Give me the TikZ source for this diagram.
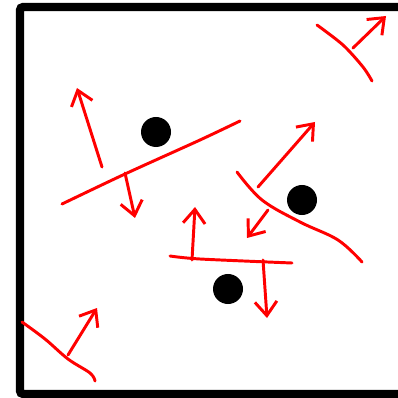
\documentclass[tikz,border=0pt]{standalone}
\usetikzlibrary{arrows.meta}
\begin{document}
\begin{tikzpicture}[x=0.025cm, y=-0.025cm,
                  cadre/.style={line width=5.7pt, rounded corners=2pt},
                  trait/.style={red, line width=2.1pt, line cap=round, line join=round},
                  fleche/.style={trait, -{Straight Barb[length=3.5mm, width=5.5mm]}},
                  point/.style={circle, fill, inner sep=0pt, minimum size=0.75cm}]
\useasboundingbox (0,0) rectangle (398,398);
\draw[cadre] (398,7) -- (20,7) -- (20,394) -- (398,394);
\foreach \i/\x/\y in {1/156/132, 2/302/200, 3/228/289}
  \node[point] (p\i) at (\x,\y) {};
% parois
\draw[trait] plot[smooth] coordinates {(317,25) (343,45) (363,67) (372,81)};
\draw[trait] plot[smooth] coordinates {(62,204) (125,174) (200,140) (240,121)};
\draw[trait] plot[smooth, tension=0.6] coordinates {(237,172) (262,200) (300,222) (338,240) (362,262)};
\draw[trait] plot[smooth] coordinates {(170,256) (200,259) (292,263)};
\draw[trait] plot[smooth, tension=0.6] coordinates {(22,322) (45,339) (68,359) (90,373) (95,381)};
% normales
\foreach \i/\xa/\ya/\xb/\yb in {1/353/48/386/16, 2/102/167/77/88, 3/125/173/135/218,
                                4/258/187/315/122, 5/268/210/247/238, 6/192/260/195/207,
                                7/263/260/267/318, 8/68/355/97/308}
  {\coordinate (a\i) at (\xa,\ya);
   \coordinate (b\i) at (\xb,\yb);
   \draw[fleche] (a\i) -- (b\i);};
\end{tikzpicture}
\end{document}
